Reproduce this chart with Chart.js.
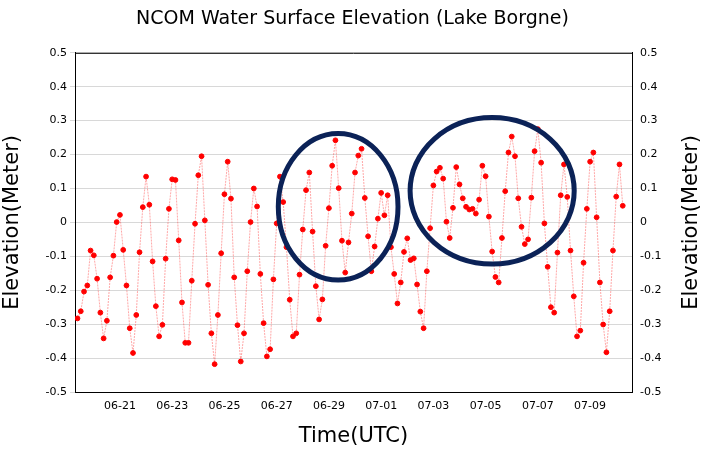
<!DOCTYPE html>
<html>
<head>
<meta charset="utf-8">
<script src="https://cdn.jsdelivr.net/npm/chart.js@4"></script>
<style>
  html, body { margin: 0; padding: 0; background: #fff; }
</style>
</head>
<body>
<canvas id="elevChart" width="705" height="453"></canvas>
<script>
// 3-hourly samples, first one at 06-19 09:00 UTC
const startHour = 9;
const stepHours = 3;
const elevation = [
  -0.283, -0.262, -0.204, -0.186, -0.083, -0.097, -0.166, -0.266, -0.342, -0.290,
  -0.162, -0.098, 0.001, 0.022, -0.081, -0.186, -0.312, -0.385, -0.273, -0.088,
  0.045, 0.135, 0.052, -0.115, -0.247, -0.336, -0.302, -0.107, 0.040, 0.127,
  0.125, -0.053, -0.236, -0.355, -0.355, -0.172, -0.004, 0.139, 0.195, 0.006,
  -0.184, -0.327, -0.418, -0.273, -0.091, 0.083, 0.179, 0.070, -0.162, -0.303,
  -0.410, -0.327, -0.144, 0.001, 0.100, 0.047, -0.152, -0.297, -0.395, -0.374,
  -0.168, -0.003, 0.135, 0.060, -0.073, -0.228, -0.336, -0.327, -0.154, -0.021,
  0.095, 0.147, -0.027, -0.188, -0.286, -0.227, -0.069, 0.042, 0.167, 0.242,
  0.101, -0.054, -0.148, -0.059, 0.026, 0.147, 0.197, 0.217, 0.072, -0.041,
  -0.144, -0.071, 0.011, 0.087, 0.021, 0.080, -0.073, -0.152, -0.239, -0.177,
  -0.087, -0.047, -0.111, -0.106, -0.183, -0.263, -0.312, -0.144, -0.017, 0.109,
  0.150, 0.161, 0.129, 0.002, -0.046, 0.043, 0.163, 0.112, 0.071, 0.046,
  0.038, 0.040, 0.026, 0.067, 0.167, 0.136, 0.017, -0.086, -0.161, -0.177,
  -0.046, 0.092, 0.206, 0.253, 0.195, 0.071, -0.013, -0.064, -0.050, 0.073,
  0.210, 0.275, 0.176, -0.003, -0.131, -0.250, -0.266, -0.089, 0.080, 0.171,
  0.075, -0.083, -0.218, -0.336, -0.319, -0.119, 0.040, 0.179, 0.206, 0.015,
  -0.177, -0.301, -0.383, -0.262, -0.083, 0.076, 0.171, 0.049
];
// hours since 06-19 00:00 UTC
const xMin = 6.7, xMax = 518.5;
const tickHours = [48, 96, 144, 192, 240, 288, 336, 384, 432, 480];
// highlighted regions: center (hours, m), radii
const ellipses = [
  { cx: 248.5, cy: 0.046, rx: 55, ry: 0.216 },
  { cx: 390, cy: 0.093, rx: 75.4, ry: 0.216 }
];
const yTitle = 'Elevation(Meter)';

const points = elevation.map((v, i) => ({ x: startHour + i * stepHours, y: v }));

function dateLabel(h) {
  const d = new Date(Date.UTC(2015, 5, 19) + h * 3600 * 1000);
  const mm = String(d.getUTCMonth() + 1).padStart(2, '0');
  const dd = String(d.getUTCDate()).padStart(2, '0');
  return mm + '-' + dd;
}

const font = 'DejaVu Sans, sans-serif';

const ellipsePlugin = {
  id: 'ellipses',
  afterDatasetsDraw(chart) {
    const c = chart.ctx, xs = chart.scales.x, ys = chart.scales.y;
    const a = chart.chartArea;
    c.save();
    // top frame line
    c.strokeStyle = '#000';
    c.lineWidth = 1;
    c.beginPath();
    c.moveTo(a.left, a.top + 0.5);
    c.lineTo(a.right, a.top + 0.5);
    c.stroke();
    c.strokeStyle = '#0b2257';
    c.lineWidth = 5;
    ellipses.forEach(e => {
      const px = xs.getPixelForValue(e.cx), py = ys.getPixelForValue(e.cy);
      const rx = Math.abs(xs.getPixelForValue(e.cx + e.rx) - px);
      const ry = Math.abs(ys.getPixelForValue(e.cy + e.ry) - py);
      c.beginPath();
      c.ellipse(px, py, rx, ry, 0, 0, Math.PI * 2);
      c.stroke();
    });
    // right axis title, reading bottom to top like the left one
    c.fillStyle = '#000';
    c.font = '21px ' + font;
    c.textAlign = 'center';
    c.textBaseline = 'middle';
    c.translate(chart.width - 13, (a.top + a.bottom) / 2);
    c.rotate(-Math.PI / 2);
    c.fillText(yTitle, 0, 0);
    c.restore();
  }
};

const yTicks = {
  color: '#000', font: { family: font, size: 11 }, stepSize: 0.1,
  callback: v => Math.abs(v) < 1e-9 ? '0' : v.toFixed(1)
};

new Chart(document.getElementById('elevChart'), {
  type: 'line',
  data: {
    datasets: [{
      data: points,
      borderColor: 'rgba(255,60,60,0.45)',
      borderWidth: 1,
      borderDash: [2, 1],
      pointBackgroundColor: '#ff0000',
      pointBorderColor: '#ff0000',
      pointRadius: 2.4,
      tension: 0
    }]
  },
  plugins: [ellipsePlugin],
  options: {
    responsive: false,
    animation: false,
    devicePixelRatio: 1,
    plugins: {
      legend: { display: false },
      tooltip: { enabled: false },
      title: {
        display: true, text: 'NCOM Water Surface Elevation (Lake Borgne)',
        color: '#000', font: { family: font, size: 19, weight: 'normal' },
        padding: { top: 8, bottom: 22 }
      }
    },
    scales: {
      x: {
        type: 'linear', min: xMin, max: xMax,
        afterBuildTicks: s => { s.ticks = tickHours.map(v => ({ value: v })); },
        afterFit: s => { s.height = 61; },
        ticks: { color: '#000', font: { family: font, size: 11 }, callback: v => dateLabel(v), maxRotation: 0 },
        grid: { display: false, tickLength: 5 },
        border: { color: '#000' },
        title: { display: true, text: 'Time(UTC)', color: '#000', font: { family: font, size: 21 }, padding: { top: 6 } }
      },
      y: {
        min: -0.5, max: 0.5,
        afterFit: s => { s.width = 75; },
        ticks: yTicks,
        grid: { color: '#d8d8d8', tickLength: 5 },
        border: { color: '#000' },
        title: { display: true, text: yTitle, color: '#000', font: { family: font, size: 21 }, padding: 0 }
      },
      y2: {
        position: 'right', min: -0.5, max: 0.5,
        afterFit: s => { s.width = 73; },
        ticks: yTicks,
        grid: { display: false, tickLength: 5 },
        border: { color: '#000' }
      }
    }
  }
});
</script>
</body>
</html>
